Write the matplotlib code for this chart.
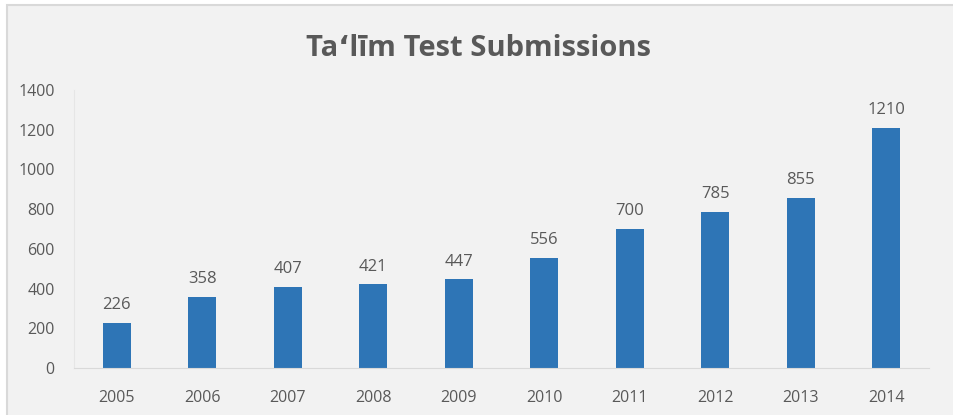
import matplotlib.pyplot as plt
from matplotlib.patches import Rectangle

years = ['2005', '2006', '2007', '2008', '2009', '2010', '2011', '2012', '2013', '2014']
submissions = [226, 358, 407, 421, 447, 556, 700, 785, 855, 1210]
yticks = [0, 200, 400, 600, 800, 1000, 1200, 1400]

plt.rcParams['font.family'] = ['Open Sans', 'DejaVu Sans']
grey = '#595959'

fig = plt.figure(figsize=(9.54, 4.15), dpi=100, facecolor='white')
# chart-area frame
fig.patches.append(Rectangle((7/954, -0.05), 1.0, 1 - 5/415 + 0.05, transform=fig.transFigure,
                             facecolor='#f2f2f2', edgecolor='#d9d9d9', linewidth=1.5, zorder=-5))

ax = fig.add_axes([74/954, 1 - 368/415, (929 - 74)/954, (368 - 90)/415])
ax.set_zorder(3)
ax.set_facecolor('none')
x = range(len(years))
bars = ax.bar(x, submissions, width=0.33, color='#2e75b6')
ax.bar_label(bars, labels=[str(v) for v in submissions], padding=7, fontsize=12, color=grey)

ax.set_xlim(-0.5, len(years) - 0.5)
ax.set_ylim(0, 1400)
ax.set_yticks(yticks)
ax.set_xticks(list(x))
ax.set_xticklabels(years)
ax.tick_params(axis='both', length=0, labelsize=11.5, labelcolor=grey)
ax.tick_params(axis='x', pad=16)
ax.tick_params(axis='y', pad=14)
for s in ['top', 'right']:
    ax.spines[s].set_visible(False)
ax.spines['left'].set_color('#e6e6e6')
ax.spines['bottom'].set_color('#d9d9d9')

fig.text(479/954, 1 - 49/415, 'Taʻlīm Test Submissions', ha='center', va='center',
         fontsize=21, fontweight='bold', color=grey)

fig.savefig('out.png', dpi=100, facecolor='white')
